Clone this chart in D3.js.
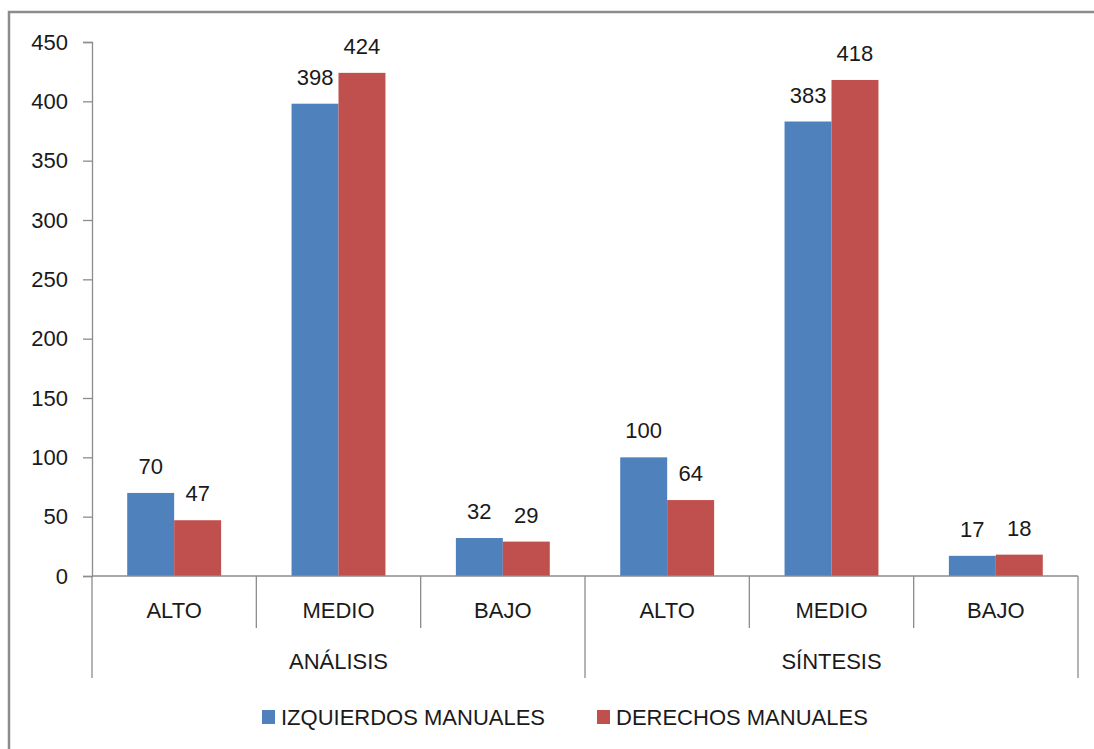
<!DOCTYPE html>
<html>
<head>
<meta charset="utf-8">
<script src="https://cdn.jsdelivr.net/npm/d3@7"></script>
<style>
  body { margin: 0; background: #fff; }
  svg text { font-family: "Liberation Sans", Arial, sans-serif; fill: #1a1a1a; }
</style>
</head>
<body>
<svg id="chart" width="1094" height="749"></svg>
<script>
// data
var groups = ["ANÁLISIS", "SÍNTESIS"];
var levels = ["ALTO", "MEDIO", "BAJO"];
var seriesNames = ["IZQUIERDOS MANUALES", "DERECHOS MANUALES"];
var izquierdos = [70, 398, 32, 100, 383, 17];
var derechos = [47, 424, 29, 64, 418, 18];
var yTicks = [0, 50, 100, 150, 200, 250, 300, 350, 400, 450];
var colors = ["#4F81BD", "#C0504D"];

var svg = d3.select("#chart");
var plotLeft = 92, plotRight = 1078, plotTop = 42, plotBottom = 576;
var fontSize = 22;

// outer frame (cut off at right and bottom like the screenshot)
svg.append("rect")
  .attr("x", 9).attr("y", 12)
  .attr("width", 1100).attr("height", 760)
  .attr("fill", "none")
  .attr("stroke", "#8c8c8c")
  .attr("stroke-width", 2.5);

var cats = d3.range(izquierdos.length);
var x = d3.scaleBand().domain(cats).range([plotLeft, plotRight]).padding(0);
var xs = d3.scaleBand().domain([0, 1]).range([0, x.bandwidth()])
  .paddingInner(0).paddingOuter(0.75);
var y = d3.scaleLinear().domain([0, 450]).range([plotBottom, plotTop]);

var rows = cats.map(function(i) { return [izquierdos[i], derechos[i]]; });

// bars
var g = svg.append("g");
var cat = g.selectAll(".cat").data(rows).enter().append("g")
  .attr("transform", function(d, i) { return "translate(" + x(i) + ",0)"; });

cat.selectAll("rect").data(function(d) { return d; }).enter().append("rect")
  .attr("x", function(d, j) { return xs(j); })
  .attr("y", function(d) { return y(d); })
  .attr("width", xs.bandwidth())
  .attr("height", function(d) { return y(0) - y(d); })
  .attr("fill", function(d, j) { return colors[j]; });

cat.selectAll("text.val").data(function(d) { return d; }).enter().append("text")
  .attr("class", "val")
  .attr("x", function(d, j) { return xs(j) + xs.bandwidth() / 2; })
  .attr("y", function(d) { return y(d) - 19; })
  .attr("text-anchor", "middle")
  .style("font-size", fontSize + "px")
  .text(function(d) { return d; });

// y axis
var axisColor = "#8c8c8c";
var yAxis = svg.append("g")
  .attr("transform", "translate(" + plotLeft + ",0)")
  .call(d3.axisLeft(y).tickValues(yTicks).tickSize(9).tickPadding(15));
yAxis.select(".domain").attr("stroke", axisColor).attr("stroke-width", 1.3);
yAxis.selectAll(".tick line").attr("stroke", axisColor).attr("stroke-width", 1.3);
yAxis.selectAll(".tick text")
  .style("font-size", fontSize + "px")
  .style("font-family", "Liberation Sans, Arial, sans-serif")
  .attr("fill", "#1a1a1a");

// x axis base line
svg.append("line")
  .attr("x1", plotLeft).attr("x2", plotRight)
  .attr("y1", y(0)).attr("y2", y(0))
  .attr("stroke", axisColor).attr("stroke-width", 1.3);

// category separators: short ones between levels, long ones between groups
var sepLines = d3.range(cats.length + 1);
svg.selectAll("line.sep").data(sepLines).enter().append("line")
  .attr("class", "sep")
  .attr("x1", function(i) { return i < cats.length ? x(i) : plotRight; })
  .attr("x2", function(i) { return i < cats.length ? x(i) : plotRight; })
  .attr("y1", y(0))
  .attr("y2", function(i) { return i % levels.length === 0 ? 678 : 628; })
  .attr("stroke", axisColor).attr("stroke-width", 1.3);

// level labels
svg.selectAll("text.lvl").data(cats).enter().append("text")
  .attr("x", function(i) { return x(i) + x.bandwidth() / 2; })
  .attr("y", 618)
  .attr("text-anchor", "middle")
  .style("font-size", fontSize + "px")
  .text(function(i) { return levels[i % levels.length]; });

// group labels
svg.selectAll("text.grp").data(groups).enter().append("text")
  .attr("x", function(d, k) { return x(k * levels.length) + x.bandwidth() * levels.length / 2; })
  .attr("y", 669)
  .attr("text-anchor", "middle")
  .style("font-size", fontSize + "px")
  .text(function(d) { return d; });

// legend
var legendX = [262, 597];
var lg = svg.selectAll("g.legend").data(seriesNames).enter().append("g")
  .attr("transform", function(d, j) { return "translate(" + legendX[j] + ",717)"; });
lg.append("rect")
  .attr("x", 0).attr("y", -7)
  .attr("width", 13).attr("height", 14)
  .attr("fill", function(d, j) { return colors[j]; });
lg.append("text")
  .attr("x", 19).attr("y", 8)
  .style("font-size", fontSize + "px")
  .text(function(d) { return d; });
</script>
</body>
</html>
